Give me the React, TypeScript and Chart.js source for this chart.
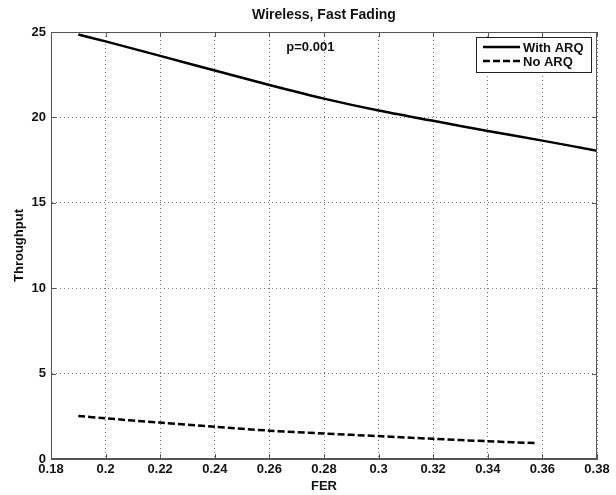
import React, { useEffect, useRef } from "react";
import { Chart, registerables } from "chart.js";

Chart.register(...registerables);

const titleText = "Wireless, Fast Fading";
const xLabel = "FER";
const yLabel = "Throughput";
const annotationText = "p=0.001";
const annotationPos = [0.275, 24.1];

const xTicks = [0.18, 0.2, 0.22, 0.24, 0.26, 0.28, 0.3, 0.32, 0.34, 0.36, 0.38];
const yTicks = [0, 5, 10, 15, 20, 25];

const withArqX = [0.19, 0.2, 0.22, 0.24, 0.26, 0.28, 0.3, 0.32, 0.34, 0.36, 0.38];
const withArqY = [24.85, 24.45, 23.6, 22.75, 21.9, 21.1, 20.4, 19.8, 19.2, 18.64, 18.05];

const noArqX = [0.19, 0.2, 0.22, 0.24, 0.26, 0.28, 0.3, 0.32, 0.34, 0.358];
const noArqY = [2.52, 2.38, 2.13, 1.89, 1.66, 1.49, 1.34, 1.18, 1.04, 0.93];

const seriesNames = ["With ARQ", "No ARQ"];

const FONT = "'Liberation Sans', Arial, sans-serif";

const overlayPlugin = {
  id: "overlay",
  afterDraw(chart: any) {
    const { ctx, chartArea } = chart;
    const xs = chart.scales.x;
    const ys = chart.scales.y;
    ctx.save();
    // frame
    ctx.strokeStyle = "#555";
    ctx.lineWidth = 1;
    ctx.setLineDash([]);
    ctx.strokeRect(chartArea.left + 0.5, chartArea.top + 0.5, chartArea.right - chartArea.left - 1, chartArea.bottom - chartArea.top - 1);
    // inward ticks
    ctx.beginPath();
    for (const t of xTicks) {
      const px = Math.round(xs.getPixelForValue(t)) + 0.5;
      ctx.moveTo(px, chartArea.bottom);
      ctx.lineTo(px, chartArea.bottom - 5);
      ctx.moveTo(px, chartArea.top);
      ctx.lineTo(px, chartArea.top + 5);
    }
    for (const t of yTicks) {
      const py = Math.round(ys.getPixelForValue(t)) + 0.5;
      ctx.moveTo(chartArea.left, py);
      ctx.lineTo(chartArea.left + 5, py);
      ctx.moveTo(chartArea.right, py);
      ctx.lineTo(chartArea.right - 5, py);
    }
    ctx.stroke();

    // title
    ctx.fillStyle = "#111";
    ctx.font = `bold 14px ${FONT}`;
    ctx.textAlign = "center";
    ctx.textBaseline = "middle";
    ctx.fillText(titleText, (chartArea.left + chartArea.right) / 2, 15);

    // annotation
    ctx.font = `bold 13px ${FONT}`;
    ctx.fillText(annotationText, xs.getPixelForValue(annotationPos[0]), ys.getPixelForValue(annotationPos[1]));

    // legend box
    const bx = chartArea.right - 121;
    const by = chartArea.top + 5;
    const bw = 115;
    const bh = 35;
    ctx.fillStyle = "#fff";
    ctx.fillRect(bx, by, bw, bh);
    ctx.strokeStyle = "#222";
    ctx.lineWidth = 1;
    ctx.strokeRect(bx + 0.5, by + 0.5, bw, bh);
    const rows = [by + 10, by + 24];
    const dashes = [[], [7, 3]];
    for (let i = 0; i < 2; i++) {
      ctx.beginPath();
      ctx.setLineDash(dashes[i]);
      ctx.lineWidth = 2.5;
      ctx.strokeStyle = "#000";
      ctx.moveTo(bx + 7, rows[i]);
      ctx.lineTo(bx + 44, rows[i]);
      ctx.stroke();
      ctx.setLineDash([]);
      ctx.fillStyle = "#111";
      ctx.textAlign = "left";
      ctx.fillText(seriesNames[i], bx + 47, rows[i] + 1);
    }
    ctx.restore();
  },
};

export default function App() {
  const ref = useRef<HTMLCanvasElement>(null);
  useEffect(() => {
    document.body.style.margin = "0";
    const canvas = ref.current!;
    const tickFont = { family: FONT, size: 13, weight: "bold" as const };
    const chart = new Chart(canvas, {
      type: "scatter",
      data: {
        datasets: [
          {
            label: seriesNames[0],
            data: withArqX.map((x, i) => ({ x, y: withArqY[i] })),
            showLine: true,
            borderColor: "#000",
            borderWidth: 2.5,
            pointRadius: 0,
            tension: 0.3,
          },
          {
            label: seriesNames[1],
            data: noArqX.map((x, i) => ({ x, y: noArqY[i] })),
            showLine: true,
            borderColor: "#000",
            borderWidth: 2.5,
            borderDash: [7, 3],
            pointRadius: 0,
            tension: 0.3,
          },
        ],
      },
      options: {
        animation: false,
        responsive: false,
        maintainAspectRatio: false,
        layout: { padding: { top: 32, right: 19, left: 0, bottom: 0 } },
        plugins: { legend: { display: false }, tooltip: { enabled: false }, title: { display: false } },
        scales: {
          x: {
            type: "linear",
            min: 0.18,
            max: 0.38,
            afterBuildTicks: (s: any) => {
              s.ticks = xTicks.map((v) => ({ value: v }));
            },
            afterFit: (s: any) => {
              s.height = 36;
            },
            ticks: {
              color: "#111",
              font: tickFont,
              padding: 3,
              maxRotation: 0,
              autoSkip: false,
              callback: (v: any) => String(parseFloat(Number(v).toFixed(2))),
            },
            grid: { color: "#777", lineWidth: 1, drawTicks: false },
            border: { display: true, color: "#555", dash: [1, 3] } as any,
            title: {
              display: true,
              text: xLabel,
              color: "#111",
              font: tickFont,
              padding: { top: 0, bottom: 1 },
            },
          },
          y: {
            type: "linear",
            min: 0,
            max: 25,
            afterBuildTicks: (s: any) => {
              s.ticks = yTicks.map((v) => ({ value: v }));
            },
            afterFit: (s: any) => {
              s.width = 51;
            },
            ticks: {
              color: "#111",
              font: tickFont,
              padding: 5,
              autoSkip: false,
            },
            grid: { color: "#777", lineWidth: 1, drawTicks: false },
            border: { display: true, color: "#555", dash: [1, 3] } as any,
            title: {
              display: true,
              text: yLabel,
              color: "#111",
              font: tickFont,
              padding: { top: 12, bottom: 0 },
            },
          },
        },
      },
      plugins: [overlayPlugin],
    });
    return () => chart.destroy();
  }, []);
  return (
    <div style={{ width: 616, height: 495 }}>
      <canvas ref={ref} width={616} height={495} style={{ display: "block" }} />
    </div>
  );
}
